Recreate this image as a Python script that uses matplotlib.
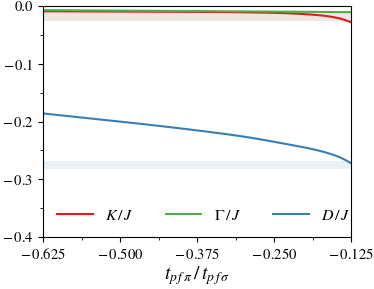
import matplotlib
matplotlib.use("Agg")
import matplotlib.pyplot as plt
import numpy as np
from matplotlib.ticker import MultipleLocator, FuncFormatter

plt.rcParams['font.family'] = 'STIXGeneral'
plt.rcParams['mathtext.fontset'] = 'stix'

# data
x = [-0.625, -0.5, -0.37, -0.3, -0.24, -0.175, -0.143, -0.125]
K = [-0.009, -0.0094, -0.0101, -0.0108, -0.0120, -0.0160, -0.0215, -0.028]
G = [-0.0070, -0.0078, -0.0085, -0.0091, -0.0096, -0.0101, -0.0104, -0.0106]
D = [-0.186, -0.200, -0.216, -0.226, -0.237, -0.251, -0.262, -0.272]
K_band = (-0.025, -0.009)
G_band = (-0.025, -0.009)
D_band = (-0.283, -0.268)

red = '#e41a1c'
green = '#4daf4a'
blue = '#377eb8'


def pchip(xk, yk, xq):
    xk = np.asarray(xk, float); yk = np.asarray(yk, float)
    h = np.diff(xk); d = np.diff(yk) / h
    n = len(xk); m = np.zeros(n)
    for i in range(1, n - 1):
        if d[i - 1] * d[i] > 0:
            w1 = 2 * h[i] + h[i - 1]; w2 = h[i] + 2 * h[i - 1]
            m[i] = (w1 + w2) / (w1 / d[i - 1] + w2 / d[i])
    m[0] = d[0]; m[-1] = d[-1]
    idx = np.clip(np.searchsorted(xk, xq) - 1, 0, n - 2)
    t = (xq - xk[idx]) / h[idx]
    h00 = 2 * t**3 - 3 * t**2 + 1; h10 = t**3 - 2 * t**2 + t
    h01 = -2 * t**3 + 3 * t**2; h11 = t**3 - t**2
    return h00 * yk[idx] + h10 * h[idx] * m[idx] + h01 * yk[idx + 1] + h11 * h[idx] * m[idx + 1]


fig = plt.figure(figsize=(3.74, 2.89), dpi=100)
ax = fig.add_axes([0.115, 0.18, 0.8235, 0.799])

ax.axhspan(*K_band, color=red, alpha=0.08, lw=0)
ax.axhspan(*G_band, color=green, alpha=0.08, lw=0)
ax.axhspan(*D_band, color=blue, alpha=0.1, lw=0)

xf = np.linspace(-0.625, -0.125, 300)
ax.plot(xf, pchip(x, K, xf), color=red, lw=1.5, label=r'$K\,/\,J$')
ax.plot(xf, pchip(x, G, xf), color=green, lw=1.5, label=r'$\Gamma\,/\,J$')
ax.plot(xf, pchip(x, D, xf), color=blue, lw=1.5, label=r'$D\,/\,J$')

ax.set_xlim(-0.625, -0.125)
ax.set_ylim(-0.4, 0.0)
ax.xaxis.set_major_locator(MultipleLocator(0.125))
ax.xaxis.set_minor_locator(MultipleLocator(0.0625))
ax.yaxis.set_major_locator(MultipleLocator(0.1))
ax.yaxis.set_minor_locator(MultipleLocator(0.05))
ax.xaxis.set_major_formatter(FuncFormatter(lambda v, p: f'$-\\,{abs(v):.3f}$' if v < 0 else f'{v:.3f}'))
ax.yaxis.set_major_formatter(FuncFormatter(lambda v, p: f'$-\\,{abs(v):.1f}$' if v < -1e-9 else '0.0'))
ax.tick_params(labelsize=10.5, direction='out')
ax.set_xlabel(r'$t_{p\,f\,\pi}\,/\,t_{p\,f\,\sigma}$', fontsize=14, labelpad=2)
ax.legend(loc='lower left', ncol=3, frameon=False, fontsize=11.5, bbox_to_anchor=(0.0, 0.0),
          columnspacing=2.0, handlelength=2.2)

fig.savefig('out.png', dpi=100)
